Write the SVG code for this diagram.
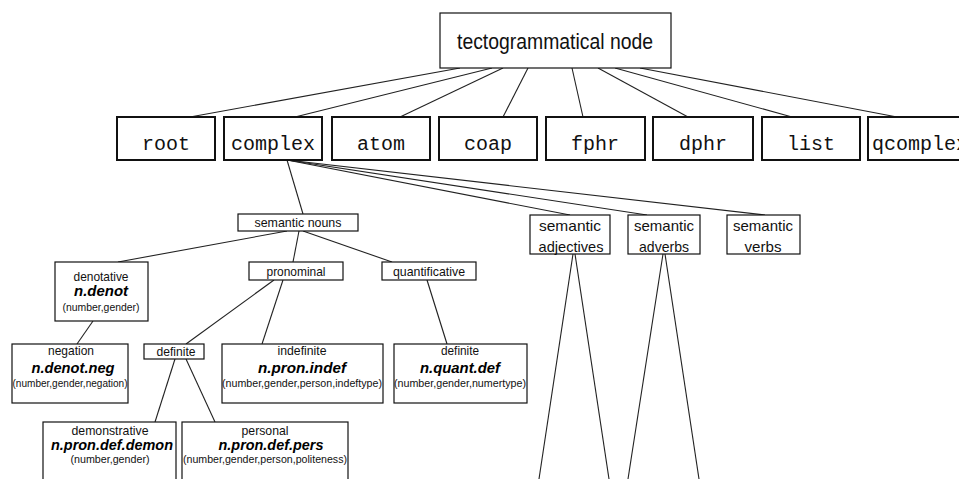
<svg xmlns="http://www.w3.org/2000/svg" width="959" height="479" viewBox="0 0 959 479">
  <style>
    .bg { fill: #ffffff; }
    .box { fill: #ffffff; stroke: #111111; stroke-width: 1.2; }
    .bigbox { fill: #ffffff; stroke: #111111; stroke-width: 2; }
    .edge { fill: none; stroke: #222222; stroke-width: 1.1; }
    .title { font-family: "Liberation Sans", Arial, sans-serif; font-size: 22px; fill: #111111; text-anchor: middle; }
    .mono { font-family: "Liberation Mono", "DejaVu Sans Mono", monospace; font-size: 20px; fill: #111111; text-anchor: middle; }
    .mono-start { font-family: "Liberation Mono", "DejaVu Sans Mono", monospace; font-size: 20px; fill: #111111; text-anchor: start; }
    .lbl { font-family: "Liberation Sans", Arial, sans-serif; font-size: 13px; fill: #111111; text-anchor: middle; }
    .lbl2 { font-family: "Liberation Sans", Arial, sans-serif; font-size: 15px; fill: #111111; text-anchor: middle; }
    .code { font-family: "Liberation Sans", Arial, sans-serif; font-size: 14px; font-weight: bold; font-style: italic; fill: #000000; text-anchor: middle; }
    .attr { font-family: "Liberation Sans", Arial, sans-serif; font-size: 11px; fill: #111111; text-anchor: middle; }
  </style>
  <rect class="bg" x="0" y="0" width="959" height="479"/>

  <!-- connectors -->
  <g id="connectors">
    <!-- tectogrammatical node to node types -->
    <line class="edge" x1="460" y1="68" x2="190" y2="117"/>
    <line class="edge" x1="492" y1="68" x2="295" y2="117"/>
    <line class="edge" x1="503" y1="68" x2="400" y2="117"/>
    <line class="edge" x1="528" y1="68" x2="503" y2="117"/>
    <line class="edge" x1="572" y1="68" x2="583" y2="117"/>
    <line class="edge" x1="598" y1="68" x2="688" y2="117"/>
    <line class="edge" x1="615" y1="68" x2="792" y2="117"/>
    <line class="edge" x1="640" y1="68" x2="897" y2="117"/>
    <!-- complex to semantic classes -->
    <line class="edge" x1="287" y1="160" x2="303" y2="214"/>
    <line class="edge" x1="287" y1="160" x2="570" y2="215"/>
    <line class="edge" x1="287" y1="160" x2="647" y2="215"/>
    <line class="edge" x1="287" y1="160" x2="765" y2="215"/>
    <!-- semantic nouns subtree -->
    <line class="edge" x1="287" y1="231" x2="118" y2="262"/>
    <line class="edge" x1="299" y1="231" x2="293" y2="262"/>
    <line class="edge" x1="303" y1="231" x2="392" y2="262"/>
    <line class="edge" x1="93" y1="321" x2="77" y2="344"/>
    <line class="edge" x1="274" y1="280" x2="186" y2="344"/>
    <line class="edge" x1="283" y1="280" x2="262" y2="344"/>
    <line class="edge" x1="427" y1="280" x2="447" y2="344"/>
    <line class="edge" x1="175" y1="359" x2="155" y2="422"/>
    <line class="edge" x1="186" y1="359" x2="215" y2="422"/>
    <!-- collapsed subtrees -->
    <line class="edge" x1="573" y1="254" x2="539" y2="479"/>
    <line class="edge" x1="575" y1="254" x2="609" y2="479"/>
    <line class="edge" x1="663" y1="254" x2="628" y2="479"/>
    <line class="edge" x1="665" y1="254" x2="699" y2="479"/>
  </g>

  <g id="tecto-node">
    <rect class="box" x="440" y="13" width="231" height="55" stroke-width="1.5"/>
    <text class="title" x="555" y="49" textLength="196" lengthAdjust="spacingAndGlyphs">tectogrammatical node</text>
  </g>

  <g id="root"><rect class="bigbox" x="117" y="117" width="98" height="43"/><text class="mono" x="166" y="150">root</text></g>
  <g id="complex"><rect class="bigbox" x="224" y="117" width="98" height="43"/><text class="mono" x="273" y="150" textLength="84" lengthAdjust="spacingAndGlyphs">complex</text></g>
  <g id="atom"><rect class="bigbox" x="332" y="117" width="98" height="43"/><text class="mono" x="381" y="150">atom</text></g>
  <g id="coap"><rect class="bigbox" x="439" y="117" width="98" height="43"/><text class="mono" x="488" y="150">coap</text></g>
  <g id="fphr"><rect class="bigbox" x="546" y="117" width="99" height="43"/><text class="mono" x="595" y="150">fphr</text></g>
  <g id="dphr"><rect class="bigbox" x="653" y="117" width="100" height="43"/><text class="mono" x="703" y="150">dphr</text></g>
  <g id="list"><rect class="bigbox" x="762" y="117" width="98" height="43"/><text class="mono" x="811" y="150">list</text></g>
  <g id="qcomplex"><rect class="bigbox" x="868" y="117" width="100" height="43"/><text class="mono-start" x="872" y="150">qcomplex</text></g>

  <g id="semantic-nouns">
    <rect class="box" x="238" y="214" width="120" height="17"/>
    <text class="lbl" x="298" y="227" textLength="87" lengthAdjust="spacingAndGlyphs">semantic nouns</text>
  </g>
  <g id="semantic-adjectives">
    <rect class="box" x="530" y="215" width="80" height="39"/>
    <text class="lbl2" x="570" y="231" textLength="62" lengthAdjust="spacingAndGlyphs">semantic</text>
    <text class="lbl2" x="571" y="252" textLength="65" lengthAdjust="spacingAndGlyphs">adjectives</text>
  </g>
  <g id="semantic-adverbs">
    <rect class="box" x="628" y="215" width="72" height="39"/>
    <text class="lbl2" x="664" y="231" textLength="60" lengthAdjust="spacingAndGlyphs">semantic</text>
    <text class="lbl2" x="664" y="252" textLength="50" lengthAdjust="spacingAndGlyphs">adverbs</text>
  </g>
  <g id="semantic-verbs">
    <rect class="box" x="727" y="215" width="73" height="39"/>
    <text class="lbl2" x="763" y="231" textLength="60" lengthAdjust="spacingAndGlyphs">semantic</text>
    <text class="lbl2" x="763" y="252" textLength="37" lengthAdjust="spacingAndGlyphs">verbs</text>
  </g>

  <g id="denotative">
    <rect class="box" x="55" y="262" width="93" height="59"/>
    <text class="lbl" x="101" y="281" textLength="55" lengthAdjust="spacingAndGlyphs">denotative</text>
    <text class="code" x="101" y="296" textLength="54" lengthAdjust="spacingAndGlyphs">n.denot</text>
    <text class="attr" x="101" y="311" textLength="77" lengthAdjust="spacingAndGlyphs">(number,gender)</text>
  </g>
  <g id="pronominal">
    <rect class="box" x="249" y="262" width="94" height="18"/>
    <text class="lbl" x="296" y="276" textLength="59" lengthAdjust="spacingAndGlyphs">pronominal</text>
  </g>
  <g id="quantificative">
    <rect class="box" x="382" y="262" width="94" height="18"/>
    <text class="lbl" x="429" y="276" textLength="72" lengthAdjust="spacingAndGlyphs">quantificative</text>
  </g>

  <g id="negation">
    <rect class="box" x="12" y="344" width="116" height="59"/>
    <text class="lbl" x="71" y="355" textLength="46" lengthAdjust="spacingAndGlyphs">negation</text>
    <text class="code" x="73" y="373" textLength="83" lengthAdjust="spacingAndGlyphs">n.denot.neg</text>
    <text class="attr" x="70" y="387" textLength="115" lengthAdjust="spacingAndGlyphs">(number,gender,negation)</text>
  </g>
  <g id="definite-pron">
    <rect class="box" x="144" y="344" width="60" height="15"/>
    <text class="lbl" x="176" y="356" textLength="39" lengthAdjust="spacingAndGlyphs">definite</text>
  </g>
  <g id="indefinite">
    <rect class="box" x="222" y="344" width="161" height="59"/>
    <text class="lbl" x="302" y="355" textLength="49" lengthAdjust="spacingAndGlyphs">indefinite</text>
    <text class="code" x="302" y="373" textLength="88" lengthAdjust="spacingAndGlyphs">n.pron.indef</text>
    <text class="attr" x="302" y="387" textLength="160" lengthAdjust="spacingAndGlyphs">(number,gender,person,indeftype)</text>
  </g>
  <g id="definite-quant">
    <rect class="box" x="394" y="344" width="133" height="59"/>
    <text class="lbl" x="460" y="355" textLength="38" lengthAdjust="spacingAndGlyphs">definite</text>
    <text class="code" x="460" y="373" textLength="80" lengthAdjust="spacingAndGlyphs">n.quant.def</text>
    <text class="attr" x="460" y="387" textLength="132" lengthAdjust="spacingAndGlyphs">(number,gender,numertype)</text>
  </g>

  <g id="demonstrative">
    <rect class="box" x="43" y="422" width="133" height="70"/>
    <text class="lbl" x="110" y="435" textLength="77" lengthAdjust="spacingAndGlyphs">demonstrative</text>
    <text class="code" x="112" y="450" textLength="122" lengthAdjust="spacingAndGlyphs">n.pron.def.demon</text>
    <text class="attr" x="110" y="463" textLength="79" lengthAdjust="spacingAndGlyphs">(number,gender)</text>
  </g>
  <g id="personal">
    <rect class="box" x="182" y="422" width="166" height="70"/>
    <text class="lbl" x="265" y="435" textLength="47" lengthAdjust="spacingAndGlyphs">personal</text>
    <text class="code" x="271" y="450" textLength="105" lengthAdjust="spacingAndGlyphs">n.pron.def.pers</text>
    <text class="attr" x="265" y="463" textLength="164" lengthAdjust="spacingAndGlyphs">(number,gender,person,politeness)</text>
  </g>
</svg>
